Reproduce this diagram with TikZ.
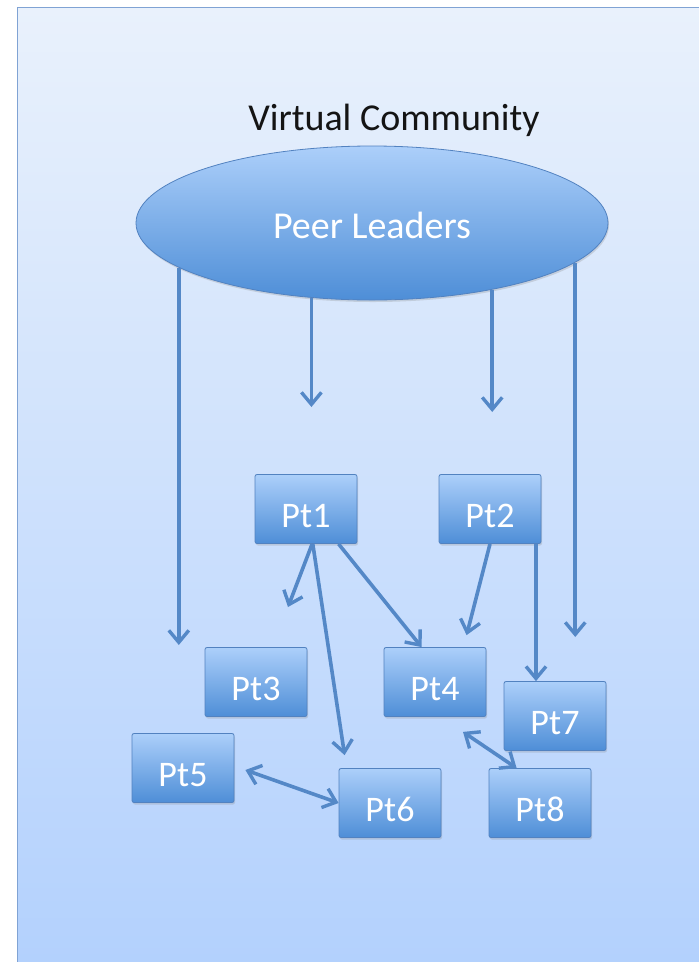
\documentclass[tikz,border=0pt]{standalone}
\usepackage{fontspec}
\setmainfont{Carlito}
\usetikzlibrary{arrows.meta, shapes.geometric, shadows, positioning}

\definecolor{bgtop}{RGB}{233,241,252}
\definecolor{bgbot}{RGB}{179,209,253}
\definecolor{frameline}{RGB}{128,163,212}
\definecolor{shapetop}{RGB}{172,207,250}
\definecolor{shapebot}{RGB}{78,142,215}
\definecolor{shapeline}{RGB}{82,130,192}
\definecolor{linkblue}{RGB}{84,136,199}
\definecolor{titlegray}{RGB}{20,20,20}

\begin{document}
\begin{tikzpicture}[x=1pt, y=-1pt,
    patient/.style={draw=shapeline, line width=0.8pt, rounded corners=2pt,
      top color=shapetop, bottom color=shapebot, text=white,
      minimum width=102pt, minimum height=69pt, inner sep=0pt,
      text height=36pt, text depth=0pt,
      font=\fontsize{36}{40}\selectfont,
      drop shadow={opacity=0.25, shadow xshift=1pt, shadow yshift=-2pt}},
    link/.style={draw=linkblue, line width=3.6pt,
      -{Straight Barb[length=12pt, width=20pt, line width=3.4pt]}},
    twolink/.style={link,
      {Straight Barb[length=12pt, width=20pt, line width=3.4pt]}-{Straight Barb[length=12pt, width=20pt, line width=3.4pt]}}]
    \useasboundingbox (0,0) rectangle (699,962);

    % backdrop
    \shade[top color=bgtop, bottom color=bgbot] (17,7) rectangle (699,962);
    \draw[frameline, line width=1pt] (17,962) -- (17,7) -- (699,7);

    \node[font=\fontsize{38}{42}\selectfont, text=titlegray]
      (title) at (394,120) {Virtual Community};
    \node[ellipse, draw=shapeline, line width=0.8pt, inner sep=0pt,
      top color=shapetop, bottom color=shapebot, text=white,
      minimum width=472pt, minimum height=154pt,
      text height=30pt, text depth=0pt,
      font=\fontsize{38}{42}\selectfont,
      drop shadow={opacity=0.25, shadow xshift=1pt, shadow yshift=-2pt}]
      (pl) at (372,223) {Peer Leaders};

    \node[patient] (pt1) at (306,509) {Pt1};
    \node[patient] (pt2) at (490,509) {Pt2};
    \node[patient] (pt3) at (256,682) {Pt3};
    \node[patient] (pt4) at (435,682) {Pt4};
    \node[patient] (pt7) at (555,716) {Pt7};
    \node[patient] (pt5) at (183,768) {Pt5};
    \node[patient] (pt6) at (390,803) {Pt6};
    \node[patient] (pt8) at (540,803) {Pt8};

    % arrows down from the leaders
    \coordinate (drop1) at (178,645);
    \coordinate (drop2) at (313,407);
    \coordinate (drop3) at (490,412);
    \coordinate (drop4) at (571,637);
    \draw[link] (pl.193) -- (pl.193 |- drop1);
    \draw[link] (pl.231.7) -- (pl.231.7 |- drop2);
    \draw[link] (pl.-29.5) -- (pl.-29.5 |- drop3);
    \draw[link] (pl.-11.7) -- (pl.-11.7 |- drop4);

    \coordinate (toward-pt3) at (288,607);
    \draw[link] (pt1.-80) -- (toward-pt3);
    \draw[link] (pt1.-79) -- ([xshift=6pt, yshift=13pt]pt6.north west);
    \draw[link] (pt1.-47) -- ([xshift=38pt]pt4.north west);
    \draw[link] (pt2.south) -- ([xshift=83pt, yshift=12pt]pt4.north west);
    \draw[link] ([xshift=46pt]pt2.south) -- ([xshift=46pt]pt2.south |- pt7.north);
    \draw[twolink] ([xshift=28pt, yshift=-15pt]pt4.south) -- ([xshift=28pt]pt8.north west);
    \draw[twolink] ([xshift=11pt, yshift=-2pt]pt5.east) -- (pt6.west);
  \end{tikzpicture}
\end{document}
